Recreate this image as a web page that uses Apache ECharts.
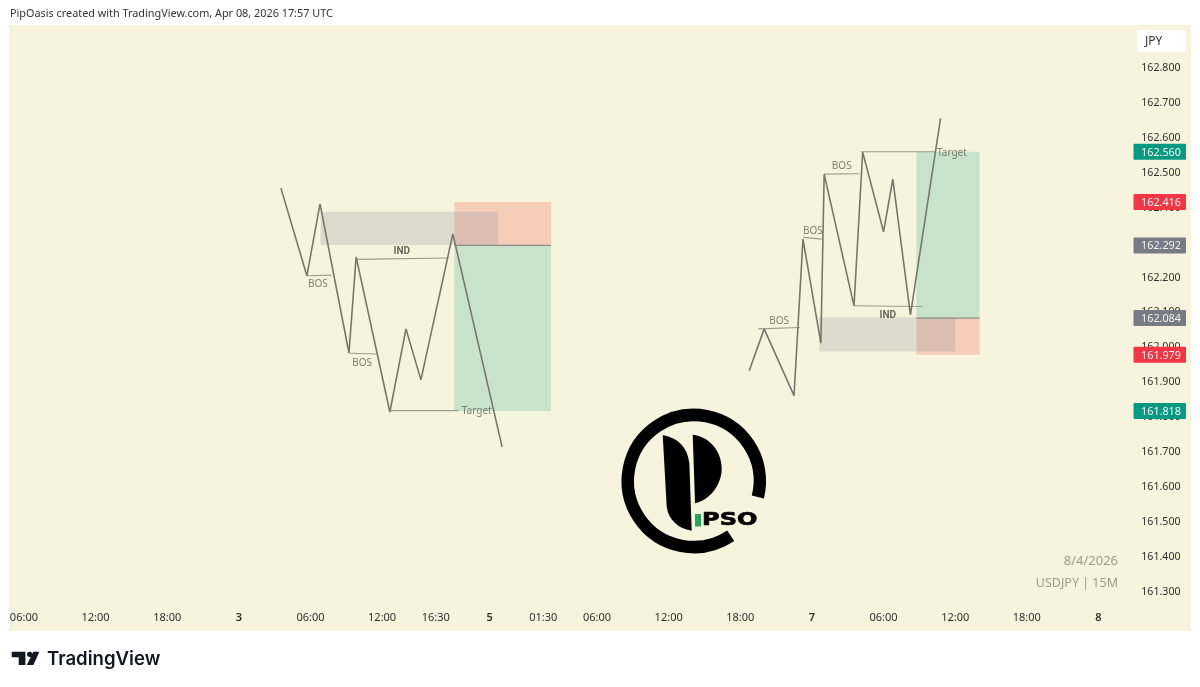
<!DOCTYPE html>
<html lang="en">
<head>
    <meta charset="UTF-8">
    <title>USDJPY 15M</title>
    <script src="https://cdn.jsdelivr.net/npm/echarts@6/dist/echarts.min.js"></script>
    <style>
        html, body { margin: 0; padding: 0; background: #fff; }
    </style>
</head>
<body>
<div id="main" style="width: 1200px;height:687px;"></div>

<script type="text/javascript">
    // x is counted in 15 minute bars from the first 06:00 label
    var xTickBars = [0, 24, 48, 72, 96, 120, 138, 156, 174, 192, 216, 240, 264, 288, 312, 336, 360];
    var xTickLabels = ['06:00', '12:00', '18:00', '3', '06:00', '12:00', '16:30', '5', '01:30', '06:00', '12:00', '18:00', '7', '06:00', '12:00', '18:00', '8'];
    var yTicks = [162.8, 162.7, 162.6, 162.5, 162.4, 162.3, 162.2, 162.1, 162.0, 161.9, 161.8, 161.7, 161.6, 161.5, 161.4, 161.3];

    // price swings
    var leftBars = [86.1, 94.8, 99.2, 108.9, 111.3, 122.6, 128, 133, 143.7, 160.2];
    var leftPrices = [162.456, 162.205, 162.411, 161.984, 162.259, 161.815, 162.053, 161.907, 162.325, 161.715];
    var rightBars = [243, 248, 258, 261, 267, 268.1, 278.1, 281, 288, 291.1, 297, 307.1];
    var rightPrices = [161.933, 162.053, 161.862, 162.31, 162.012, 162.496, 162.119, 162.559, 162.331, 162.482, 162.093, 162.656];

    // zones: [bar from, price top, bar to, price bottom]
    var profitZones = [[144.2, 162.292, 176.6, 161.818], [299, 162.56, 320.2, 162.084]];
    var riskZones = [[144.2, 162.416, 176.6, 162.292], [299, 162.084, 320.2, 161.979]];
    var greyZones = [[99.4, 162.388, 158.9, 162.293], [266.4, 162.086, 312, 161.988]];

    // level lines: [bar from, price, bar to, price]
    var entryLines = [[144.2, 162.292, 176.6, 162.292], [299, 162.084, 320.2, 162.084]];
    var levelLines = [
        [94.9, 162.205, 103.1, 162.207],
        [111.2, 162.252, 142.2, 162.256],
        [109, 161.983, 118.2, 161.981],
        [122.4, 161.819, 145.5, 161.819],
        [246, 162.053, 260, 162.057],
        [261.1, 162.315, 267.3, 162.31],
        [268, 162.496, 279.9, 162.497],
        [280.3, 162.56, 305.2, 162.56],
        [278.1, 162.119, 301, 162.117]
    ];

    var noteTexts = ['BOS', 'BOS', 'IND', 'Target', 'BOS', 'BOS', 'BOS', 'Target', 'IND'];
    var noteBars = [98.5, 113.3, 126.6, 151.7, 253, 264.3, 274, 310.9, 289.4];
    var notePrices = [162.18, 161.955, 162.274, 161.817, 162.076, 162.333, 162.518, 162.557, 162.092];

    var badgePrices = [162.56, 162.416, 162.292, 162.084, 161.979, 161.818];
    var badgeKinds = ['up', 'down', 'flat', 'flat', 'down', 'up'];
    var badgeColors = {up: '#089981', down: '#f23645', flat: '#787b86'};

    var myChart = echarts.init(document.getElementById('main'));
    var tickFont = '"Noto Sans", sans-serif';

    function zoneSeries(data, color, z) {
        return {
            type: 'custom',
            z: z,
            silent: true,
            data: data,
            encode: {x: [0, 2], y: [1, 3]},
            renderItem: function (params, api) {
                var a = api.coord([api.value(0), api.value(1)]);
                var b = api.coord([api.value(2), api.value(3)]);
                return {
                    type: 'rect',
                    shape: {x: a[0], y: a[1], width: b[0] - a[0], height: b[1] - a[1]},
                    style: {fill: color}
                };
            }
        };
    }

    function levelSeries(data, color, width, z) {
        return {
            type: 'custom',
            z: z,
            silent: true,
            data: data,
            encode: {x: [0, 2], y: [1, 3]},
            renderItem: function (params, api) {
                var a = api.coord([api.value(0), api.value(1)]);
                var b = api.coord([api.value(2), api.value(3)]);
                return {
                    type: 'line',
                    shape: {x1: a[0], y1: a[1], x2: b[0], y2: b[1]},
                    style: {stroke: color, lineWidth: width}
                };
            }
        };
    }

    function swingSeries(bars, prices) {
        return {
            type: 'line',
            z: 6,
            silent: true,
            symbol: 'none',
            lineStyle: {color: '#77776a', width: 1.6},
            data: bars.map(function (b, i) { return [b, prices[i]]; })
        };
    }

    // the graphic component has no svg path element, so the two logos go through a custom series
    function logoItem(pathData, x, y, width, height, fill) {
        return {
            type: 'path',
            shape: {pathData: pathData, layout: 'cover', x: x, y: y, width: width, height: height},
            style: {fill: fill}
        };
    }

    var option = {
        animation: false,
        backgroundColor: '#ffffff',
        grid: {left: 9, right: 9, top: 25, bottom: 56, show: true, backgroundColor: '#f7f4dd', borderWidth: 0},
        xAxis: {
            type: 'value',
            min: -5,
            max: 391,
            splitLine: {show: false},
            axisLine: {show: false},
            axisTick: {show: false},
            axisLabel: {
                inside: true,
                margin: 8,
                customValues: xTickBars,
                color: '#2f2f2f',
                fontFamily: tickFont,
                fontSize: 11,
                formatter: function (v) {
                    var s = xTickLabels[xTickBars.indexOf(v)];
                    return s.length < 3 ? '{d|' + s + '}' : s;
                },
                rich: {d: {fontWeight: 600, color: '#2f2f2f', fontFamily: tickFont, fontSize: 11}}
            }
        },
        yAxis: {
            type: 'value',
            position: 'right',
            min: 161.188,
            max: 162.923,
            splitLine: {show: false},
            axisLine: {show: false},
            axisTick: {show: false},
            axisLabel: {
                inside: true,
                margin: 10.5,
                padding: [4, 0, 0, 0],
                customValues: yTicks,
                color: '#2f2f2f',
                fontFamily: tickFont,
                fontSize: 10.6,
                formatter: function (v) { return v.toFixed(3); }
            }
        },
        series: [
            zoneSeries(profitZones, '#c7e4cb', 2),
            zoneSeries(riskZones, '#f6cdb9', 2),
            zoneSeries(greyZones, 'rgba(120,134,150,0.21)', 3),
            levelSeries(entryLines, '#8f9088', 1.2, 4),
            levelSeries(levelLines, '#9c9c8d', 1.1, 5),
            swingSeries(leftBars, leftPrices),
            swingSeries(rightBars, rightPrices),
            {
                type: 'scatter',
                z: 7,
                silent: true,
                symbolSize: 0,
                data: noteBars.map(function (b, i) {
                    var bold = noteTexts[i] === 'IND';
                    return {
                        value: [b, notePrices[i]],
                        label: {
                            show: true,
                            position: 'inside',
                            formatter: noteTexts[i],
                            color: bold ? '#45453e' : '#616156',
                            fontWeight: bold ? 700 : 400,
                            fontFamily: bold ? 'Roboto' : tickFont,
                            fontSize: bold ? 10 : 10
                        }
                    };
                })
            },
            {
                type: 'custom',
                z: 8,
                silent: true,
                clip: false,
                data: badgePrices.map(function (p, i) { return [p, i]; }),
                encode: {y: 0},
                renderItem: function (params, api) {
                    var y = api.coord([0, api.value(0)])[1];
                    return {
                        type: 'group',
                        children: [
                            {
                                type: 'rect',
                                shape: {x: 1133.5, y: y - 8, width: 52.5, height: 16, r: 1},
                                style: {fill: badgeColors[badgeKinds[params.dataIndex]]}
                            },
                            {
                                type: 'text',
                                style: {
                                    x: 1161,
                                    y: y + 1,
                                    text: api.value(0).toFixed(3),
                                    fill: '#f4f4ee',
                                    font: '10.8px ' + tickFont,
                                    textAlign: 'center',
                                    textVerticalAlign: 'middle'
                                }
                            }
                        ]
                    };
                }
            },
            {
                type: 'custom',
                z: 9,
                silent: true,
                clip: false,
                data: [[0, 161.5]],
                encode: {x: 0, y: 1},
                renderItem: function () {
                    return {
                        type: 'group',
                        children: [
                            logoItem('M188,105 C235,115 262,140 268,190 L275,392 C235,385 205,360 200,320 Z M278,104 C330,110 365,155 365,205 C365,255 330,300 285,310 Z', 662.7, 434.7, 59, 96, '#000000'),
                            logoItem('M35,155 H76 V195 H56 V172 H35 Z M100,155 H118 L100,195 H80 Z M97,163 A8,8 0 1,1 81,163 A8,8 0 1,1 97,163 Z', 11.7, 651.7, 27.7, 13.3, '#131722')
                        ]
                    };
                }
            }
        ],
        graphic: [
            {
                type: 'text',
                style: {x: 10, y: 14, text: 'PipOasis created with TradingView.com, Apr 08, 2026 17:57 UTC', fill: '#333333', font: '10.85px ' + tickFont, textVerticalAlign: 'middle'}
            },
            {
                type: 'rect',
                shape: {x: 1137, y: 30, width: 49, height: 22, r: 2},
                style: {fill: '#ffffff'}
            },
            {
                type: 'text',
                style: {x: 1145, y: 42, text: 'JPY', fill: '#333333', font: '12px ' + tickFont, textVerticalAlign: 'middle'}
            },
            {
                type: 'text',
                style: {x: 1118, y: 561, text: '8/4/2026', fill: '#9b9b90', font: '13px ' + tickFont, textAlign: 'right', textVerticalAlign: 'middle'}
            },
            {
                type: 'text',
                style: {x: 1118, y: 583, text: 'USDJPY | 15M', fill: '#9b9b90', font: '12.5px ' + tickFont, textAlign: 'right', textVerticalAlign: 'middle'}
            },
            // PipOasis logo ring, the P itself is in the custom series
            {
                type: 'arc',
                shape: {cx: 693.8, cy: 481, r: 66, startAngle: 56 * Math.PI / 180, endAngle: 374 * Math.PI / 180, clockwise: true},
                style: {stroke: '#000000', lineWidth: 12.5, fill: 'none'}
            },
            {
                type: 'rect',
                shape: {x: 695, y: 514, width: 6, height: 12.5},
                style: {fill: '#22a652'}
            },
            {
                type: 'text',
                x: 702,
                y: 520,
                scaleX: 1.3,
                style: {x: 0, y: 0, text: 'PSO', fill: '#000000', stroke: '#000000', lineWidth: 0.7, font: 'bold 18.5px "DejaVu Sans"', textVerticalAlign: 'middle'}
            },
            {
                type: 'text',
                style: {x: 47, y: 659, text: 'TradingView', fill: '#131722', font: '600 18.6px Inter', textVerticalAlign: 'middle'}
            }
        ]
    };

    myChart.setOption(option);
</script>
</body>
</html>
